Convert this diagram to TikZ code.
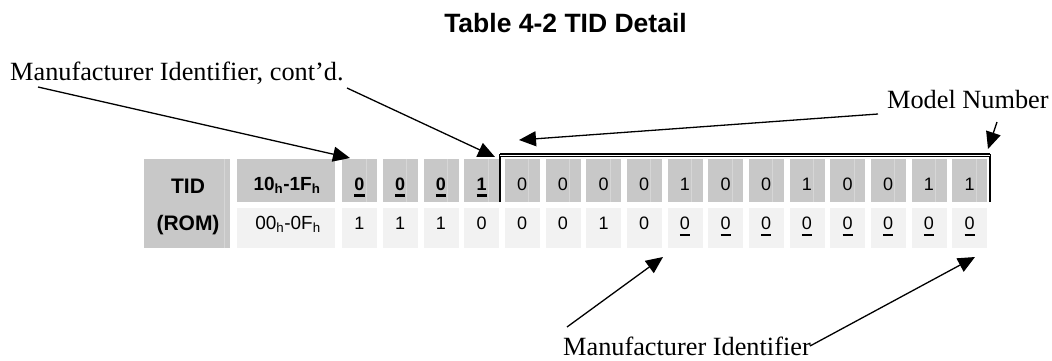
\documentclass[tikz,border=0pt]{standalone}
\usepackage{fontspec}
\setmainfont{Liberation Serif}
\newfontfamily\arialf{Liberation Sans}
\usetikzlibrary{arrows.meta}
\definecolor{cellgray}{HTML}{C8C8C8}
\definecolor{celllight}{HTML}{F2F2F2}
\definecolor{seam}{HTML}{D6D6D6}
\newcommand\myul[3]{\setbox0\hbox{#3}\rlap{\rule[#1]{\wd0}{#2}}\box0}
\begin{document}
\begin{tikzpicture}[x=1pt,y=-1pt,
  graycell/.style={fill=cellgray,draw=none,inner sep=0pt,minimum width=35pt,minimum height=43pt,anchor=north west},
  lightcell/.style={fill=celllight,draw=none,inner sep=0pt,minimum width=35pt,minimum height=40pt,anchor=north west},
  digit/.style={font=\arialf\fontsize{18}{21}\selectfont,inner sep=0pt,anchor=base},
  bdigit/.style={font=\arialf\bfseries\fontsize{18}{21}\selectfont,inner sep=0pt,anchor=base},
  tidtext/.style={font=\arialf\bfseries\fontsize{21}{24}\selectfont,inner sep=0pt,anchor=base},
  lbltext/.style={font=\fontsize{26.3}{30}\selectfont,inner sep=0pt,anchor=base west},
  arr/.style={-{Triangle[length=17pt,width=15pt]},line width=1.3pt}]
\useasboundingbox (0,0) rectangle (1052,360);
\fill[white] (0,0) rectangle (1052,360);
% title
\node[font=\arialf\bfseries\fontsize{26.5}{30}\selectfont,anchor=base,inner sep=0pt] (title) at (565.5,32) {Table 4-2 TID Detail};
% cells
\node[graycell,minimum width=86pt,minimum height=89pt] (tid) at (144,159) {};
\node[graycell,minimum width=98pt] (hi) at (237,159) {};
\node[lightcell,minimum width=98pt] (lo) at (237,208) {};
\draw[seam,line width=0.8pt] (224,159) -- (224,248);
\foreach \i in {0,...,15} {
  \pgfmathsetmacro\xl{342+40.667*\i}
  \node[graycell] (a\i) at (\xl,159) {};
  \node[lightcell] (b\i) at (\xl,208) {};
  \draw[seam,line width=0.8pt] (\xl+24,159) -- (\xl+24,202);
}
% cell texts
\node[tidtext] (tidt) at (188,193) {TID};
\node[tidtext] (romt) at (188,230) {(ROM)};
\node[bdigit,font=\arialf\bfseries\fontsize{19}{22}\selectfont] (hit) at (287,190) {10\textsubscript{h}-1F\textsubscript{h}};
\node[digit,font=\arialf\fontsize{19}{22}\selectfont] (lot) at (288,229) {00\textsubscript{h}-0F\textsubscript{h}};
\foreach \v [count=\i from 0] in {0,0,0,1} {
  \pgfmathsetmacro\xc{359.5+40.667*\i}
  \node[bdigit] (ta\i) at (\xc,190) {\myul{-6.5pt}{2.6pt}{\v}};
}
\foreach \v [count=\i from 4] in {0,0,0,0,1,0,0,1,0,0,1,1} {
  \pgfmathsetmacro\xc{359.5+40.667*\i}
  \node[digit] (ta\i) at (\xc,190) {\v};
}
\foreach \v [count=\i from 0] in {1,1,1,0,0,0,1,0} {
  \pgfmathsetmacro\xc{359.5+40.667*\i}
  \node[digit] (tb\i) at (\xc,229) {\v};
}
\foreach \i in {8,...,15} {
  \pgfmathsetmacro\xc{359.5+40.667*\i}
  \node[digit] (tb\i) at (\xc,229) {\myul{-7pt}{2pt}{0}};
}
% bracket
\coordinate (bl) at (500,202);
\coordinate (tl) at (500,155);
\coordinate (tr) at (990,155);
\coordinate (br) at (990,202);
\draw[line width=2.5pt] (bl) -- (500,154);
\draw[line width=2.5pt] (br) -- (990,154);
\draw[draw=black,double=white,double distance=0.8pt,line width=1.2pt] (tl) -- (tr);
% labels
\node[lbltext] (mic) at (10,80) {Manufacturer Identifier, cont'd.};
\node[lbltext] (mn) at (887,108) {Model Number};
\node[lbltext] (mi) at (563,355) {Manufacturer Identifier};
% arrow ends
\coordinate (s1) at (38,87);
\coordinate (e1) at (350,158);
\coordinate (s2) at (347,88);
\coordinate (e2) at (495,157);
\coordinate (s3) at (878,114);
\coordinate (e3) at (519,140);
\coordinate (s4) at (997,122);
\coordinate (e4) at (988,149);
\coordinate (s5) at (567,327);
\coordinate (e5) at (663,257);
\coordinate (s6) at (810,346);
\coordinate (e6) at (975,257);
\draw[arr] (s1) -- (e1);
\draw[arr] (s2) -- (e2);
\draw[arr] (s3) -- (e3);
\draw[arr] (s4) -- (e4);
\draw[arr] (s5) -- (e5);
\draw[arr] (s6) -- (e6);
\end{tikzpicture}
\end{document}
